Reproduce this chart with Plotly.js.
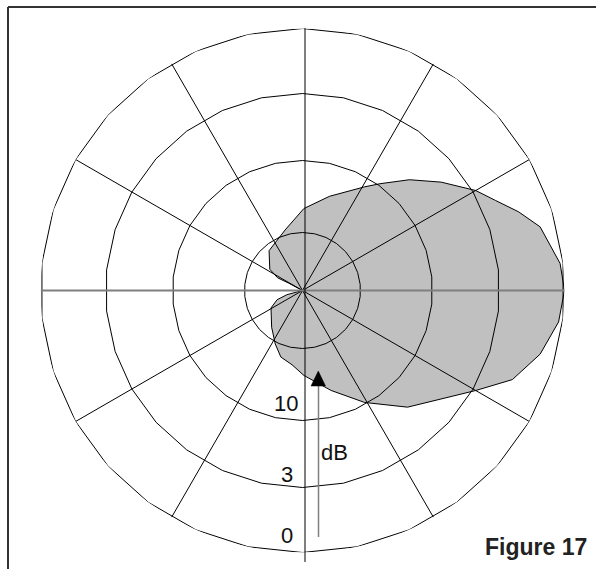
<!DOCTYPE html>
<html>
<head>
<meta charset="utf-8">
<script src="https://cdn.plot.ly/plotly-3.0.1.min.js"></script>
<style>html,body{margin:0;padding:0;background:#fff;}#chart{width:596px;height:569px;}</style>
</head>
<body>
<div id="chart"></div>
<script>
// Grid: ring radii (plot units) and their dB labels (outer ring = 0 dB)
const ringRadii = [262, 197, 130, 58];
const ringLabels = ['0', '3', '10'];
const spokeAngles = [30, 60, 120, 150, 210, 240, 300, 330];

// Polar pattern outline (degrees counter-clockwise from the right, radius in plot units)
const patternTheta = [0, 6, 15, 20, 25, 30, 38, 46, 54, 59, 74, 89, 106, 130, 147, 153, 152, 180, 195, 200, 209, 230, 243, 252, 262, 271, 286, 299, 312, 330, 337, 345, 353, 360];
const patternR     = [262, 259, 246, 230, 213, 200, 176, 154, 132, 121, 98, 82, 63, 52, 39, 28, 16, 0, 16, 27, 36, 48, 60, 70, 75, 85, 104, 128, 157, 200, 228, 246, 258, 262];

const W = 596, H = 569;
const cx = 302.5, cy = 290.5, R = 262;
const px = x => x / W;
const py = y => 1 - y / H;

const traces = [];
traces.push({
  type: 'scatterpolar', r: patternR, theta: patternTheta, mode: 'lines',
  fill: 'toself', fillcolor: '#c0c0c0', line: {color: '#000', width: 1},
  hoverinfo: 'skip', showlegend: false
});

// polygonal rings
ringRadii.forEach(rr => {
  const th = [], r = [];
  for (let a = 6; a <= 366; a += 12) { th.push(a); r.push(rr); }
  traces.push({type: 'scatterpolar', r: r, theta: th, mode: 'lines',
    line: {color: '#000', width: 1}, hoverinfo: 'skip', showlegend: false});
});

// spokes
const sr = [], st = [];
spokeAngles.forEach(a => { sr.push(0, R, null); st.push(a, a, null); });
traces.push({type: 'scatterpolar', r: sr, theta: st, mode: 'lines',
  line: {color: '#000', width: 1}, hoverinfo: 'skip', showlegend: false, connectgaps: false});

// horizontal axis line (grey)
traces.push({type: 'scatterpolar', r: [R, 0, R], theta: [180, 180, 0], mode: 'lines',
  line: {color: '#7f7f7f', width: 2}, hoverinfo: 'skip', showlegend: false});

const font = {family: 'Liberation Sans, Arial, sans-serif', size: 22, color: '#111'};
const labelPos = [[287, 535.5], [287, 474.5], [285.5, 403.5]];
const annotations = ringLabels.map((t, i) => ({
  text: t, x: px(labelPos[i][0]), y: py(labelPos[i][1]), xref: 'paper', yref: 'paper',
  xanchor: 'center', yanchor: 'middle', showarrow: false, font: font
}));
annotations.push({text: 'dB', x: px(334.5), y: py(452), xref: 'paper', yref: 'paper',
  xanchor: 'center', yanchor: 'middle', showarrow: false, font: font});
annotations.push({text: '<b>Figure 17</b>', x: px(483), y: py(547), xref: 'paper', yref: 'paper',
  xanchor: 'left', yanchor: 'middle', showarrow: false,
  font: {family: 'Liberation Sans, Arial, sans-serif', size: 23, color: '#222'}});

const shapes = [
  // frame
  {type: 'line', xref: 'paper', yref: 'paper', x0: px(8), y0: py(7), x1: px(8), y1: py(H), line: {color: '#333', width: 2}},
  {type: 'line', xref: 'paper', yref: 'paper', x0: px(8), y0: py(7), x1: px(W), y1: py(7), line: {color: '#333', width: 2}},
  // vertical axis line
  {type: 'line', xref: 'paper', yref: 'paper', x0: px(305), y0: py(28), x1: px(305), y1: py(562), line: {color: '#000', width: 1}, layer: 'above'},
  // dB arrow shaft
  {type: 'line', xref: 'paper', yref: 'paper', x0: px(318.5), y0: py(537), x1: px(318.5), y1: py(384), line: {color: '#7f7f7f', width: 1.5}, layer: 'above'},
  // arrow head
  {type: 'path', xref: 'paper', yref: 'paper',
   path: 'M ' + px(311) + ' ' + py(386) + ' L ' + px(325.5) + ' ' + py(386) + ' L ' + px(318.3) + ' ' + py(371) + ' Z',
   fillcolor: '#000', line: {color: '#000', width: 0.5}, layer: 'above'}
];

const layout = {
  width: W, height: H, margin: {l: 0, r: 0, t: 0, b: 0},
  paper_bgcolor: '#fff', showlegend: false,
  polar: {
    domain: {x: [px(cx - R), px(cx + R)], y: [py(cy + R), py(cy - R)]},
    bgcolor: 'rgba(0,0,0,0)',
    radialaxis: {visible: false, range: [0, R], showgrid: false, showline: false},
    angularaxis: {visible: false, rotation: 0, direction: 'counterclockwise', showgrid: false, showline: false, ticks: ''}
  },
  annotations: annotations,
  shapes: shapes
};

Plotly.newPlot('chart', traces, layout, {staticPlot: true, displayModeBar: false});
</script>
</body>
</html>
